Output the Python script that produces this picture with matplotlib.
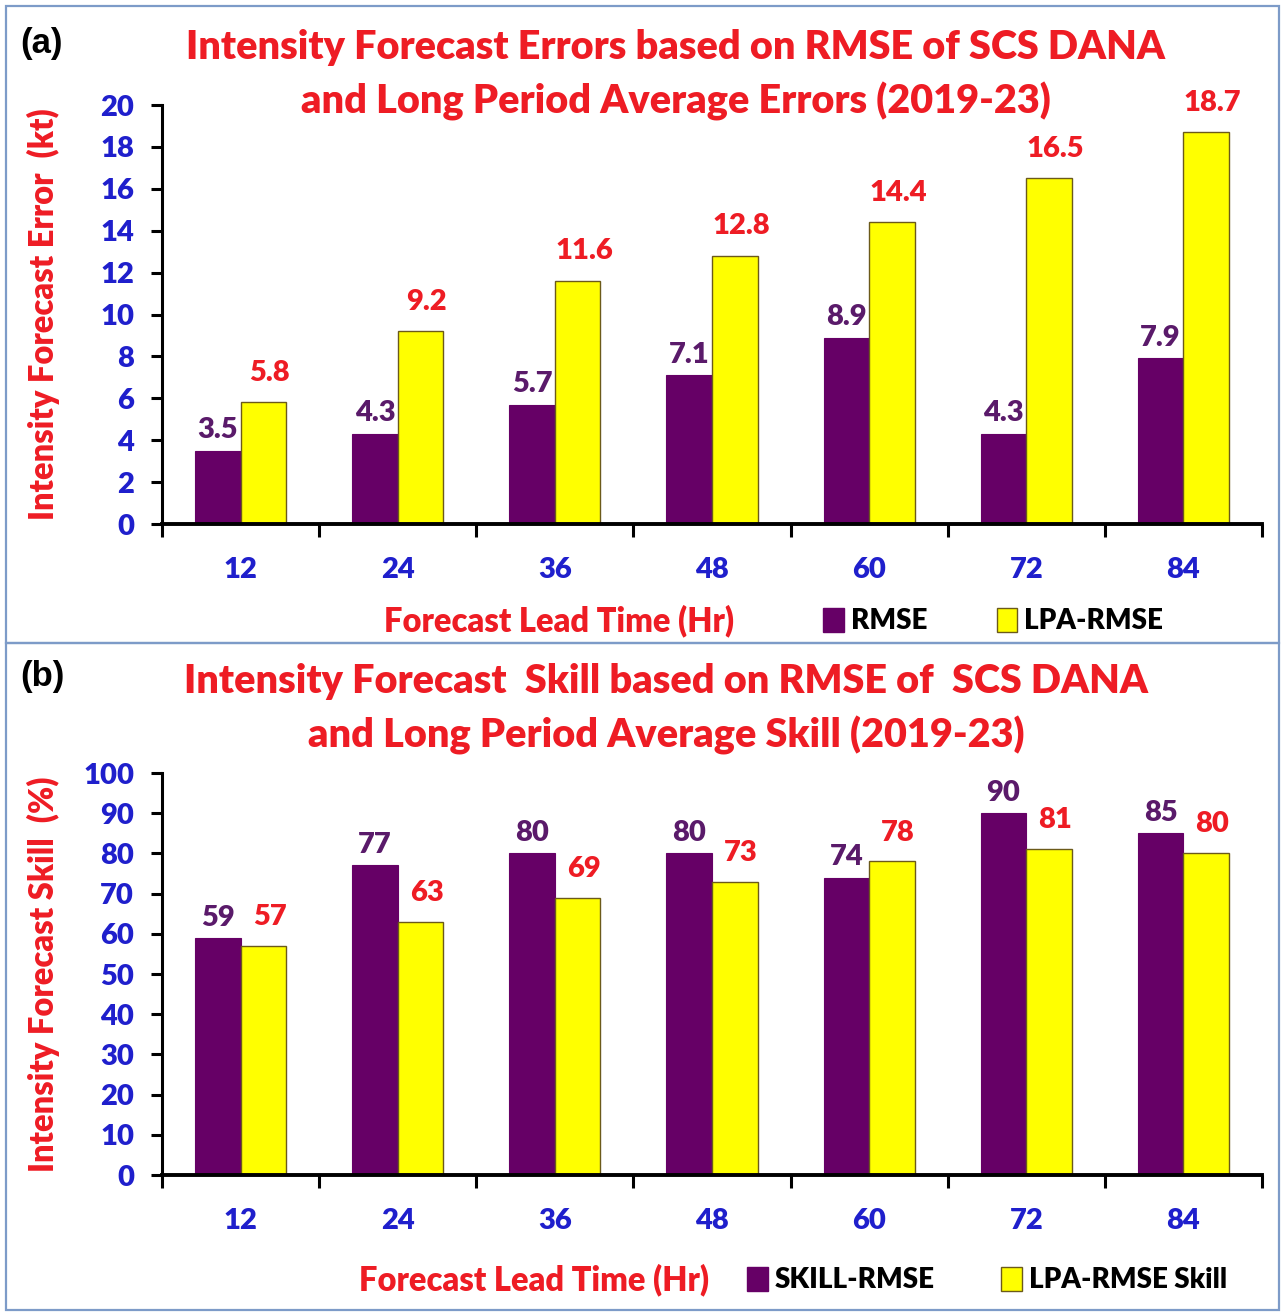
import numpy as np
import matplotlib
matplotlib.use("Agg")
import matplotlib.pyplot as plt
from matplotlib.patches import Rectangle, Patch

# data
lead_times = ['12', '24', '36', '48', '60', '72', '84']
rmse = [3.5, 4.3, 5.7, 7.1, 8.9, 4.3, 7.9]
lpa_rmse = [5.8, 9.2, 11.6, 12.8, 14.4, 16.5, 18.7]
skill_rmse = [59, 77, 80, 80, 74, 90, 85]
lpa_skill = [57, 63, 69, 73, 78, 81, 80]

PURPLE = '#660066'
YELLOW = '#ffff00'
RED = '#ee1c24'
BLUE = '#1f1fcc'
LBL_PURPLE = '#5a1a6a'
FONT = 'Lato'
WT = 'heavy'

W, H = 1283, 1316
fig = plt.figure(figsize=(W / 100, H / 100), dpi=100)


def px(x, y):
    return x / W, 1 - y / H


def panel(rect, s1, s2, names, ymax, ystep, ylabel, title, title_x, fmt, letter,
          title_y, xlabel_x, xlabel_y, leg_x, colsp):
    ax = fig.add_axes(rect)
    x = np.arange(len(lead_times))
    w = 0.29
    ax.bar(x - w / 2, s1, w, color=PURPLE, edgecolor=PURPLE, linewidth=0.8, zorder=2)
    ax.bar(x + w / 2, s2, w, color=YELLOW, edgecolor='#6b5a1a', linewidth=1.0, zorder=2)
    off = ymax * 0.018
    for xi, v in zip(x, s1):
        ax.text(xi - w / 2, v + off, fmt.format(v), ha='center', va='bottom',
                color=LBL_PURPLE, fontsize=21, fontweight=WT, family=FONT)
    for xi, v in zip(x, s2):
        ax.text(xi + w / 2 + 0.04, v + off * 2.2, fmt.format(v), ha='center', va='bottom',
                color=RED, fontsize=21, fontweight=WT, family=FONT)

    ax.set_xlim(-0.5, len(lead_times) - 0.5)
    ax.set_ylim(0, ymax)
    ax.set_yticks(np.arange(0, ymax + 0.1, ystep))
    ax.set_xticks(x)
    ax.set_xticklabels(lead_times)
    ax.set_xticks(np.arange(-0.5, len(lead_times)), minor=True)
    ax.tick_params(axis='x', which='major', length=0, pad=24, labelsize=21,
                   labelcolor=BLUE)
    ax.tick_params(axis='x', which='minor', length=9, width=2.2, direction='out')
    ax.tick_params(axis='y', length=8, width=2.2, pad=12, labelsize=21,
                   labelcolor=BLUE)
    for lab in ax.get_xticklabels() + ax.get_yticklabels():
        lab.set_fontweight(WT)
        lab.set_family(FONT)
    for sp in ['top', 'right']:
        ax.spines[sp].set_visible(False)
    ax.spines['left'].set_linewidth(2.2)
    ax.spines['bottom'].set_linewidth(2.8)

    ax.set_ylabel(ylabel, color=RED, fontsize=23.5, fontweight=WT, family=FONT)
    ax.yaxis.set_label_coords(-0.093, 0.5)

    fx, fy = px(title_x, title_y)
    fig.text(fx, fy, title, ha='center', va='center', color=RED, fontsize=28.5,
             fontweight=WT, family=FONT, linespacing=1.52)
    fx, fy = px(20, title_y - 32)
    fig.text(fx, fy, letter, ha='left', va='center', color='black', fontsize=25,
             fontweight='bold', family='Liberation Sans')
    fx, fy = px(xlabel_x, xlabel_y)
    fig.text(fx, fy, 'Forecast Lead Time (Hr)', ha='center', va='center',
             color=RED, fontsize=23.5, fontweight=WT, family=FONT)
    handles = [Patch(facecolor=PURPLE, edgecolor=PURPLE),
               Patch(facecolor=YELLOW, edgecolor='#6b5a1a')]
    lx, ly = px(leg_x, xlabel_y)
    fig.legend(handles, names, loc='center left', bbox_to_anchor=(lx, ly),
               ncol=2, frameon=False, handlelength=0.75, handleheight=0.95,
               handletextpad=0.25, columnspacing=colsp,
               prop={'family': FONT, 'weight': WT, 'size': 20})
    return ax


panel([162 / W, 1 - 524 / H, 1100 / W, (524 - 105) / H], rmse, lpa_rmse,
      ['RMSE', 'LPA-RMSE'], 20, 2, 'Intensity Forecast Error  (kt)',
      'Intensity Forecast Errors based on RMSE of SCS DANA\n'
      'and Long Period Average Errors (2019-23)', 676, '{:.1f}', '(a)',
      75, 559, 621, 798, 2.5)

panel([162 / W, 1 - 1175 / H, 1100 / W, (1175 - 773) / H], skill_rmse, lpa_skill,
      ['SKILL-RMSE', 'LPA-RMSE Skill'], 100, 10, 'Intensity Forecast Skill  (%)',
      'Intensity Forecast  Skill based on RMSE of  SCS DANA\n'
      'and Long Period Average Skill (2019-23)', 666, '{:d}', '(b)',
      709, 534, 1280, 722, 2.4)

# panel borders
for (y0, y1) in [(6, 643), (643, 1310)]:
    fig.patches.append(Rectangle(px(6, y1), (1279 - 6) / W, (y1 - y0) / H,
                                 transform=fig.transFigure, fill=False,
                                 edgecolor='#7d9bc8', linewidth=1.6))

fig.savefig('out.png', dpi=100)
